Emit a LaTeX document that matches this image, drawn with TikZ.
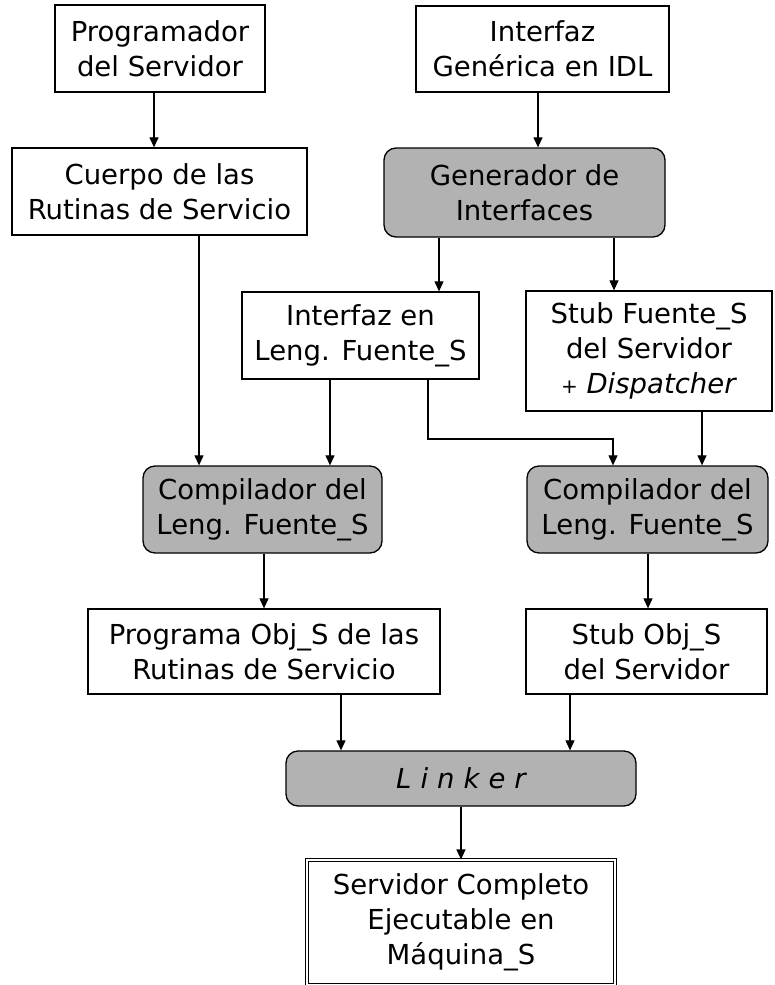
\documentclass[tikz,border=0pt]{standalone}
\usepackage{fontspec}
\setmainfont{DejaVu Sans}
\usetikzlibrary{arrows.meta}
\begin{document}
\begin{tikzpicture}[x=1pt,y=-1pt,
 box/.style={draw, line width=1.3pt, align=center, inner sep=0pt, font=\fontsize{27.5}{35}\selectfont},
 wbox/.style={box, fill=white},
 gbox/.style={box, fill=gray!60, rounded corners=12pt},
 arr/.style={line width=1.1pt, -{Triangle[width=9pt,length=10pt]}}]
\useasboundingbox (0,0) rectangle (774,985);
\fill[white] (0,0) rectangle (774,985);

\node[wbox, minimum width=210pt, minimum height=87pt] (prog) at (160,48.5) {Programador\\del Servidor};
\node[wbox, minimum width=253pt, minimum height=86pt] (idl) at (542.5,49) {Interfaz\\Genérica en IDL};
\node[wbox, minimum width=295pt, minimum height=87pt] (cuerpo) at (159.5,191.5) {Cuerpo de las\\Rutinas de Servicio};
\node[gbox, minimum width=281pt, minimum height=89pt] (gen) at (524.5,192.5) {Generador de\\Interfaces};
\node[wbox, minimum width=237pt, minimum height=87pt] (ileng) at (360.5,335.5) {Interfaz en\\Leng. Fuente\_S};
\node[wbox, minimum width=246pt, minimum height=120pt] (stubf) at (649,351) {Stub Fuente\_S\\del Servidor\\{\fontsize{20}{35}\selectfont +} \textit{Dispatcher}};
\node[gbox, minimum width=239pt, minimum height=87pt] (compL) at (262.5,509.5) {Compilador del\\Leng. Fuente\_S};
\node[gbox, minimum width=241pt, minimum height=87pt] (compR) at (647.5,509.5) {Compilador del\\Leng. Fuente\_S};
\node[wbox, minimum width=352pt, minimum height=85pt] (progO) at (264,651.5) {Programa Obj\_S de las\\Rutinas de Servicio};
\node[wbox, minimum width=241pt, minimum height=85pt] (stubO) at (646.5,651.5) {Stub Obj\_S\\del Servidor};
\node[gbox, minimum width=350pt, minimum height=55pt] (linker) at (461,778.5) {\itshape L\kern9pt i\kern9pt n\kern9pt k\kern9pt e\kern9pt r};
\node[box, fill=white, double, line width=1.1pt, double distance=2.2pt, minimum width=308pt, minimum height=125pt] (final) at (461,922.5) {Servidor Completo\\Ejecutable en\\Máquina\_S};

\coordinate (bend) at (613,439);

\draw[arr] (prog.south -| 154,0) -- (cuerpo.north -| 154,0);
\draw[arr] (idl.south -| 538,0) -- (gen.north -| 538,0);
\draw[arr] (cuerpo.south -| 199,0) -- (compL.north -| 199,0);
\draw[arr] (gen.south -| 439,0) -- (ileng.north -| 439,0);
\draw[arr] (gen.south -| 614,0) -- (stubf.north -| 614,0);
\draw[arr] (ileng.south -| 330,0) -- (compL.north -| 330,0);
\draw[arr] (ileng.south -| 428,0) |- (bend) -- (compR.north -| bend);
\draw[arr] (stubf.south -| 702,0) -- (compR.north -| 702,0);
\draw[arr] (compL.south -| 264,0) -- (progO.north -| 264,0);
\draw[arr] (compR.south -| 648,0) -- (stubO.north -| 648,0);
\draw[arr] (progO.south -| 341,0) -- (linker.north -| 341,0);
\draw[arr] (stubO.south -| 570,0) -- (linker.north -| 570,0);
\draw[arr] (linker.south) -- (final.north);
\end{tikzpicture}
\end{document}
